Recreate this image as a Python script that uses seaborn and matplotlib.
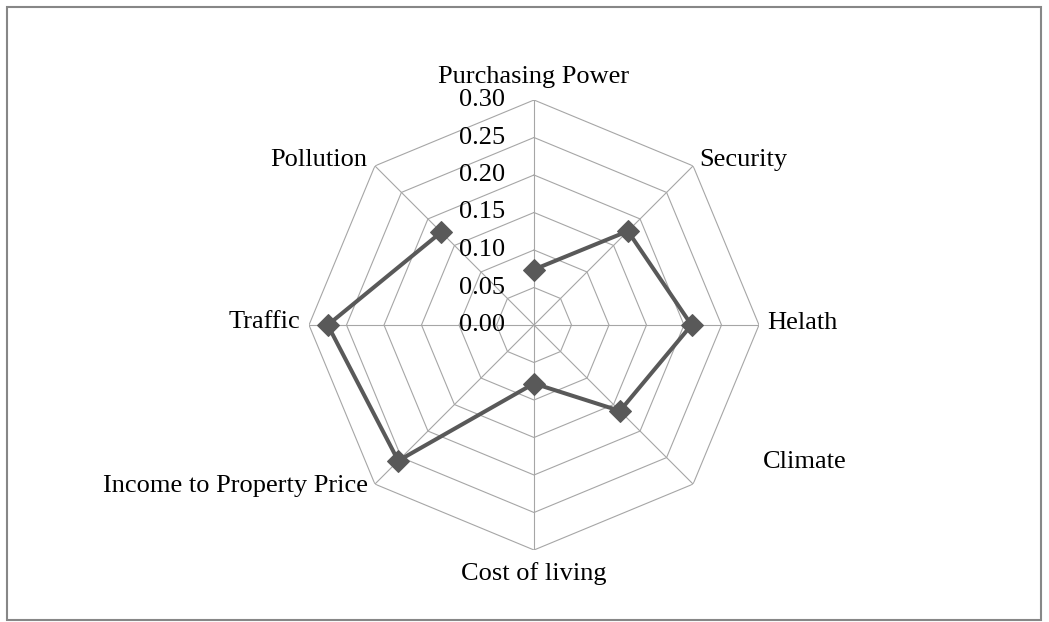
import numpy as np
import pandas as pd
import matplotlib
matplotlib.use('Agg')
import matplotlib.pyplot as plt
import matplotlib.patches as patches
import seaborn as sns


categories = ['Purchasing Power', 'Security', 'Helath', 'Climate',
              'Cost of living', 'Income to Property Price', 'Traffic', 'Pollution']
scores = [0.074, 0.177, 0.210, 0.162, 0.078, 0.256, 0.275, 0.175]
tick_values = [0.00, 0.05, 0.10, 0.15, 0.20, 0.25, 0.30]
tick_labels = ['0.00', '0.05', '0.10', '0.15', '0.20', '0.25', '0.30']

# label offsets in pixels from the outer vertex of each spoke: (dx, dy, ha, va)
label_offsets = [
    (0, 17, 'center', 'baseline'),
    (6, 0, 'left', 'baseline'),
    (8, 2, 'left', 'center'),
    (70, 22, 'left', 'center'),
    (0, -12, 'center', 'top'),
    (-7, -2, 'right', 'center'),
    (-9, 3, 'right', 'center'),
    (-8, 0, 'right', 'baseline'),
]

sns.set_style('white')
plt.rcParams['font.family'] = ['Liberation Serif', 'DejaVu Serif']

fig = plt.figure(figsize=(10.49, 6.22), dpi=100)
ax = fig.add_axes([309 / 1049, 72 / 622, 450 / 1049, 450 / 622], projection='polar')
ax.set_theta_zero_location('N')
ax.set_theta_direction(-1)

n = len(categories)
angles = np.arange(n) * 2 * np.pi / n
rmax = tick_values[-1]

# octagon grid rings and spokes
grid_color = '#a6a6a6'
closed_angles = np.append(angles, angles[0])
for t in tick_values[1:]:
    ax.plot(closed_angles, [t] * (n + 1), color=grid_color, lw=0.8, zorder=1)
for a in angles:
    ax.plot([a, a], [0, rmax], color=grid_color, lw=0.8, zorder=1)

df = pd.DataFrame({
    'angle': np.append(angles, angles[0]),
    'score': scores + [scores[0]],
    'order': range(n + 1),
})
sns.lineplot(data=df, x='angle', y='score', sort=False, ax=ax, color='#595959',
             lw=2.9, marker='D', markersize=11, markeredgecolor='#595959',
             zorder=3)

ax.set_ylim(0, rmax)
ax.grid(False)
ax.spines['polar'].set_visible(False)
ax.set_xticks([])
ax.set_yticks([])
ax.set_xlabel('')
ax.set_ylabel('')

for v, lab in zip(tick_values, tick_labels):
    ax.annotate(lab, xy=(0, v), xytext=(-29, 0), textcoords='offset pixels',
                ha='right', va='center', fontsize=19, color='black')

for a, lab, (dx, dy, ha, va) in zip(angles, categories, label_offsets):
    ax.annotate(lab, xy=(a, rmax), xytext=(dx, dy), textcoords='offset pixels',
                ha=ha, va=va, fontsize=19, color='black')

fig.patches.append(patches.Rectangle((7 / 1049, 2 / 622), 1034 / 1049, 613 / 622,
                                     transform=fig.transFigure, fill=False,
                                     edgecolor='#878787', lw=1.5))

fig.savefig('out.png', dpi=100)
